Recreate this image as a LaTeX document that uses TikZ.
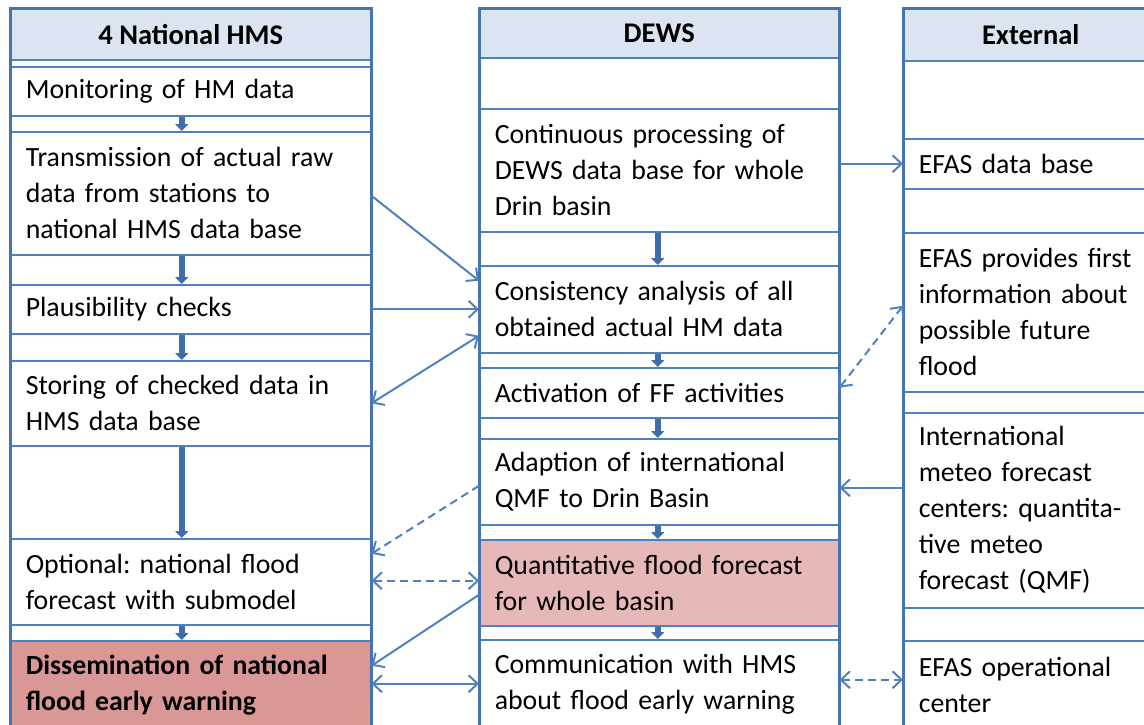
\documentclass[tikz,border=0pt]{standalone}
\usepackage{fontspec}
\setmainfont{Carlito}
\usetikzlibrary{arrows.meta}
\definecolor{lineblue}{HTML}{4F81BD}
\definecolor{frameblue}{HTML}{4674B0}
\definecolor{headfill}{HTML}{DBE5F1}
\definecolor{pinklight}{HTML}{E6B8B7}
\definecolor{pinkdark}{HTML}{D99795}
\definecolor{arrblue}{HTML}{3F6DA8}
\frenchspacing
\begin{document}
\begin{tikzpicture}[x=1pt,y=-1pt,
  every node/.style={font=\fontsize{27.8}{36}\selectfont, text=black},
  rowbox/.style={draw=lineblue, line width=1.5pt, align=left, inner xsep=15pt, inner ysep=0pt, anchor=north west},
  colA/.style={rowbox, text width=330pt},
  colB/.style={rowbox, text width=329pt},
  colC/.style={rowbox, text width=224pt},
  headbox/.style={draw=lineblue, line width=1.5pt, fill=headfill, anchor=north west, inner sep=0pt, font=\fontsize{28.5}{36}\selectfont\bfseries, align=center},
  frame/.style={draw=frameblue, line width=3pt},
  colarr/.style={draw=arrblue, line width=5.5pt, -{Triangle[length=7pt,width=13pt]}},
  conn/.style={draw=lineblue, line width=2pt, -{Straight Barb[length=9pt,width=17pt]}},
  conn2/.style={draw=lineblue, line width=2pt, {Straight Barb[length=9pt,width=17pt]}-{Straight Barb[length=9pt,width=17pt]}},
  dashline/.style={dash pattern=on 8pt off 5pt}
]
\useasboundingbox (0,0) rectangle (1144,724);
\clip (0,0) rectangle (1144,724);

% ---------- Column 1 ----------
\node[headbox, minimum width=360pt, minimum height=51pt] (headA) at (10,8) {4 National HMS};
\node[colA, minimum height=49pt] (mon) at (10,66) {Monitoring of HM data};
\node[colA, minimum height=123pt] (trans) at (10,131) {Transmission of actual raw\\data from stations to\\national HMS data base};
\node[colA, minimum height=49pt] (plaus) at (10,284) {Plausibility checks};
\node[colA, minimum height=85pt] (stor) at (10,360) {Storing of checked data in\\HMS data base};
\node[colA, minimum height=86pt] (opt) at (10,538) {Optional: national flood\\forecast with submodel};
\node[colA, minimum height=88pt, fill=pinkdark, font=\fontsize{27.8}{36}\selectfont\bfseries] (dis) at (10,640) {Dissemination of national\\flood early warning};

% ---------- Column 2 ----------
\node[headbox, minimum width=359pt, minimum height=49pt] (headB) at (479,8) {DEWS};
\node[colB, minimum height=123pt] (cont) at (479,108) {Continuous processing of\\DEWS data base for whole\\Drin basin};
\node[colB, minimum height=87pt] (cons) at (479,265) {Consistency analysis of all\\obtained actual HM data};
\node[colB, minimum height=50pt] (act) at (479,367) {Activation of FF activities};
\node[colB, minimum height=86pt] (adapt) at (479,438) {Adaption of international\\QMF to Drin Basin};
\node[colB, minimum height=86pt, fill=pinklight] (quant) at (479,539) {Quantitative flood forecast\\for whole basin};
\node[colB, minimum height=88pt] (comm) at (479,639) {Communication with HMS\\about flood early warning};

% ---------- Column 3 ----------
\node[headbox, minimum width=254pt, minimum height=52pt] (headC) at (903,8) {External};
\node[colC, minimum height=50pt] (efasdb) at (903,138) {EFAS data base};
\node[colC, minimum height=159pt] (prov) at (903,232) {EFAS provides first\\information about\\possible future\\flood};
\node[colC, minimum height=195pt] (intl) at (903,412) {International\\meteo forecast\\centers: quantita-\\tive meteo\\forecast (QMF)};
\node[colC, minimum height=88pt] (efasop) at (903,640) {EFAS operational\\center};

% ---------- Column frames ----------
\draw[frame] (headA.north west) rectangle (dis.south east);
\draw[frame] (headB.north west) rectangle (comm.south east);
\draw[frame] (headC.north west) rectangle (efasop.south east);

% ---------- Flow arrows inside columns ----------
\draw[colarr] ([xshift=-9pt]mon.south) -- ([xshift=-9pt]trans.north);
\draw[colarr] ([xshift=-9pt]trans.south) -- ([xshift=-9pt]plaus.north);
\draw[colarr] ([xshift=-9pt]plaus.south) -- ([xshift=-9pt]stor.north);
\draw[colarr] ([xshift=-9pt]stor.south) -- ([xshift=-9pt]opt.north);
\draw[colarr] ([xshift=-9pt]opt.south) -- ([xshift=-9pt]dis.north);

\draw[colarr] ([xshift=-1.5pt]cont.south) -- ([xshift=-1.5pt]cons.north);
\draw[colarr] ([xshift=-1.5pt]cons.south) -- ([xshift=-1.5pt]act.north);
\draw[colarr] ([xshift=-1.5pt]act.south) -- ([xshift=-1.5pt]adapt.north);
\draw[colarr] ([xshift=-1.5pt]adapt.south) -- ([xshift=-1.5pt]quant.north);
\draw[colarr] ([xshift=-1.5pt]quant.south) -- ([xshift=-1.5pt]comm.north);

% ---------- Connectors between columns ----------
\draw[conn] ([yshift=-2.5pt]trans.east) -- ([yshift=28.5pt]cons.west);
\draw[conn] (plaus.east) -- (plaus.east -| cons.west);
\draw[conn2] ([yshift=-26.5pt]cons.west) -- (stor.east);
\draw[conn, dashline] ([yshift=-4pt]adapt.west) -- ([yshift=28pt]opt.east);
\draw[conn2, dashline] ([yshift=1pt]opt.east) -- ([yshift=1pt]opt.east -| quant.west);
\draw[conn] ([yshift=-12pt]quant.west) -- ([yshift=19pt]dis.east);
\draw[conn2] ([yshift=1pt]dis.east) -- ([yshift=1pt]dis.east -| comm.west);

\draw[conn] ([yshift=6.5pt]cont.east) -- (efasdb.west);
\draw[conn2, dashline] ([yshift=5pt]act.east) -- ([yshift=6.5pt]prov.west);
\draw[conn] ([yshift=22.5pt]intl.west) -- ([yshift=22.5pt]intl.west -| adapt.east);
\draw[conn2, dashline] ([yshift=4pt]comm.east) -- ([yshift=4pt]comm.east -| efasop.west);
\end{tikzpicture}
\end{document}
